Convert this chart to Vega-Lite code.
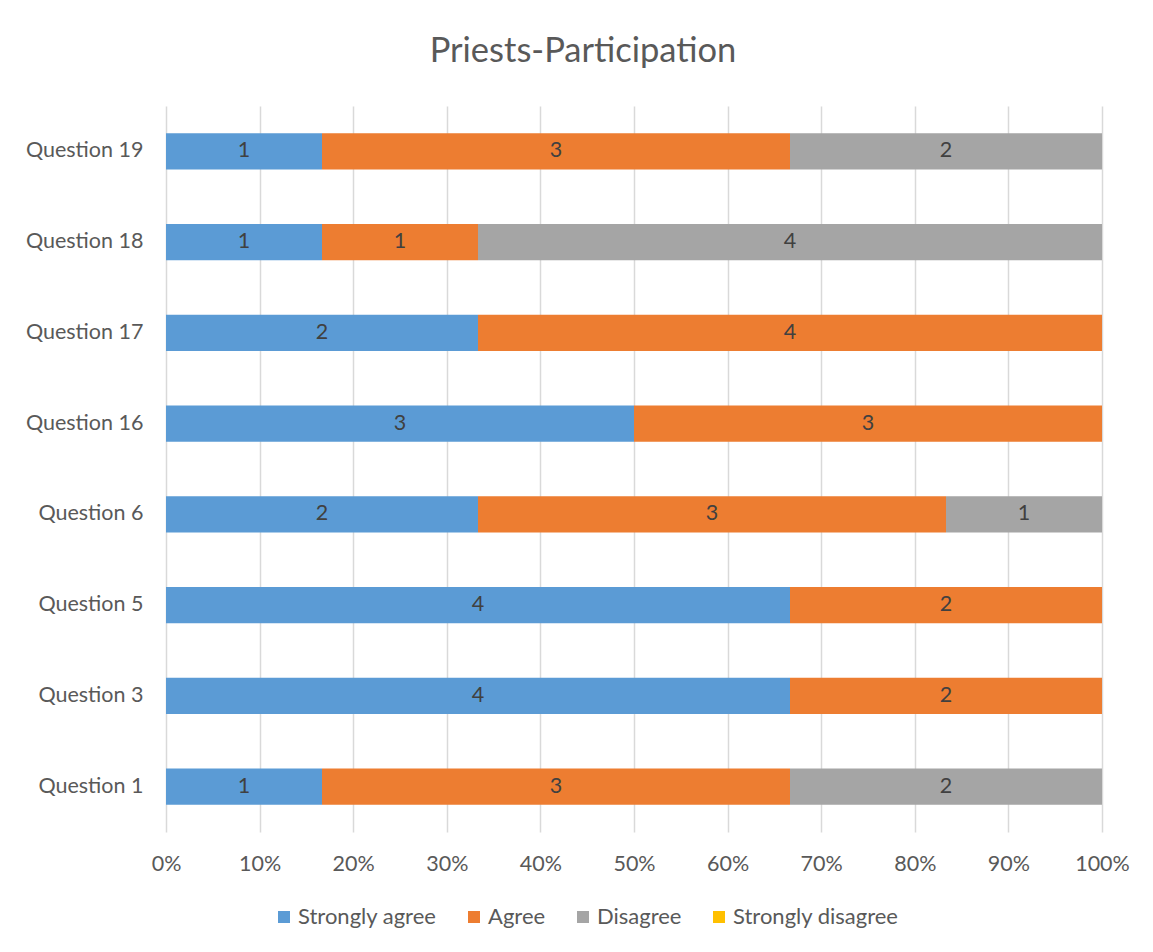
{
  "$schema": "https://vega.github.io/schema/vega-lite/v6.json",
  "autosize": {"type": "none"},
  "width": 936,
  "height": 726,
  "padding": {"left": 166, "top": 106, "right": 51, "bottom": 120},
  "background": "white",
  "title": {
    "text": "Priests-Participation",
    "font": "Lato",
    "fontSize": 34.5,
    "fontWeight": "normal",
    "color": "#595959",
    "anchor": "middle",
    "dx": -51,
    "offset": 37
  },
  "data": {
    "values": [
      {"question": "Question 19", "response": "Strongly agree", "count": 1},
      {"question": "Question 19", "response": "Agree", "count": 3},
      {"question": "Question 19", "response": "Disagree", "count": 2},
      {"question": "Question 19", "response": "Strongly disagree", "count": 0},
      {"question": "Question 18", "response": "Strongly agree", "count": 1},
      {"question": "Question 18", "response": "Agree", "count": 1},
      {"question": "Question 18", "response": "Disagree", "count": 4},
      {"question": "Question 18", "response": "Strongly disagree", "count": 0},
      {"question": "Question 17", "response": "Strongly agree", "count": 2},
      {"question": "Question 17", "response": "Agree", "count": 4},
      {"question": "Question 17", "response": "Disagree", "count": 0},
      {"question": "Question 17", "response": "Strongly disagree", "count": 0},
      {"question": "Question 16", "response": "Strongly agree", "count": 3},
      {"question": "Question 16", "response": "Agree", "count": 3},
      {"question": "Question 16", "response": "Disagree", "count": 0},
      {"question": "Question 16", "response": "Strongly disagree", "count": 0},
      {"question": "Question 6", "response": "Strongly agree", "count": 2},
      {"question": "Question 6", "response": "Agree", "count": 3},
      {"question": "Question 6", "response": "Disagree", "count": 1},
      {"question": "Question 6", "response": "Strongly disagree", "count": 0},
      {"question": "Question 5", "response": "Strongly agree", "count": 4},
      {"question": "Question 5", "response": "Agree", "count": 2},
      {"question": "Question 5", "response": "Disagree", "count": 0},
      {"question": "Question 5", "response": "Strongly disagree", "count": 0},
      {"question": "Question 3", "response": "Strongly agree", "count": 4},
      {"question": "Question 3", "response": "Agree", "count": 2},
      {"question": "Question 3", "response": "Disagree", "count": 0},
      {"question": "Question 3", "response": "Strongly disagree", "count": 0},
      {"question": "Question 1", "response": "Strongly agree", "count": 1},
      {"question": "Question 1", "response": "Agree", "count": 3},
      {"question": "Question 1", "response": "Disagree", "count": 2},
      {"question": "Question 1", "response": "Strongly disagree", "count": 0}
    ]
  },
  "transform": [
    {"calculate": "indexof(['Strongly agree','Agree','Disagree','Strongly disagree'], datum.response)", "as": "rank"},
    {"stack": "count", "groupby": ["question"], "sort": [{"field": "rank", "order": "ascending"}], "offset": "normalize", "as": ["share0", "share1"]},
    {"calculate": "(datum.share0 + datum.share1) / 2", "as": "mid"}
  ],
  "encoding": {
    "y": {
      "field": "question",
      "type": "nominal",
      "sort": ["Question 19", "Question 18", "Question 17", "Question 16", "Question 6", "Question 5", "Question 3", "Question 1"],
      "scale": {"paddingInner": 0.6, "paddingOuter": 0.3},
      "axis": {
        "title": null,
        "domain": false,
        "ticks": false,
        "labelPadding": 23,
        "labelFont": "Lato",
        "labelFontSize": 21.5,
        "labelColor": "#595959"
      }
    }
  },
  "layer": [
    {
      "mark": {"type": "bar"},
      "encoding": {
        "x": {
          "field": "share0",
          "type": "quantitative",
          "scale": {"domain": [0, 1], "nice": false},
          "axis": {
            "title": null,
            "format": ".0%",
            "values": [0, 0.1, 0.2, 0.3, 0.4, 0.5, 0.6, 0.7, 0.8, 0.9, 1],
            "domain": false,
            "ticks": false,
            "grid": true,
            "gridColor": "#d9d9d9",
            "gridWidth": 1.5,
            "labelFlush": false,
            "labelPadding": 21,
            "labelFont": "Lato",
            "labelFontSize": 21.5,
            "labelColor": "#595959"
          }
        },
        "x2": {"field": "share1"},
        "color": {
          "field": "response",
          "type": "nominal",
          "scale": {
            "domain": ["Strongly agree", "Agree", "Disagree", "Strongly disagree"],
            "range": ["#5B9BD5", "#ED7D31", "#A5A5A5", "#FFC000"]
          },
          "legend": {
            "title": null,
            "orient": "none",
            "direction": "horizontal",
            "legendX": 107,
            "legendY": 800,
            "symbolType": "square",
            "symbolSize": 144,
            "symbolStrokeWidth": 0,
            "labelFont": "Lato",
            "labelFontSize": 22,
            "labelColor": "#595959",
            "labelLimit": 400,
            "labelOffset": 3,
            "columnPadding": 26
          }
        }
      }
    },
    {
      "transform": [{"filter": "datum.count > 0"}],
      "mark": {"type": "text", "font": "Lato", "fontSize": 21.5, "color": "#404040", "baseline": "middle"},
      "encoding": {
        "x": {"field": "mid", "type": "quantitative"},
        "text": {"field": "count", "type": "quantitative"}
      }
    }
  ],
  "config": {
    "view": {"stroke": null}
  }
}
